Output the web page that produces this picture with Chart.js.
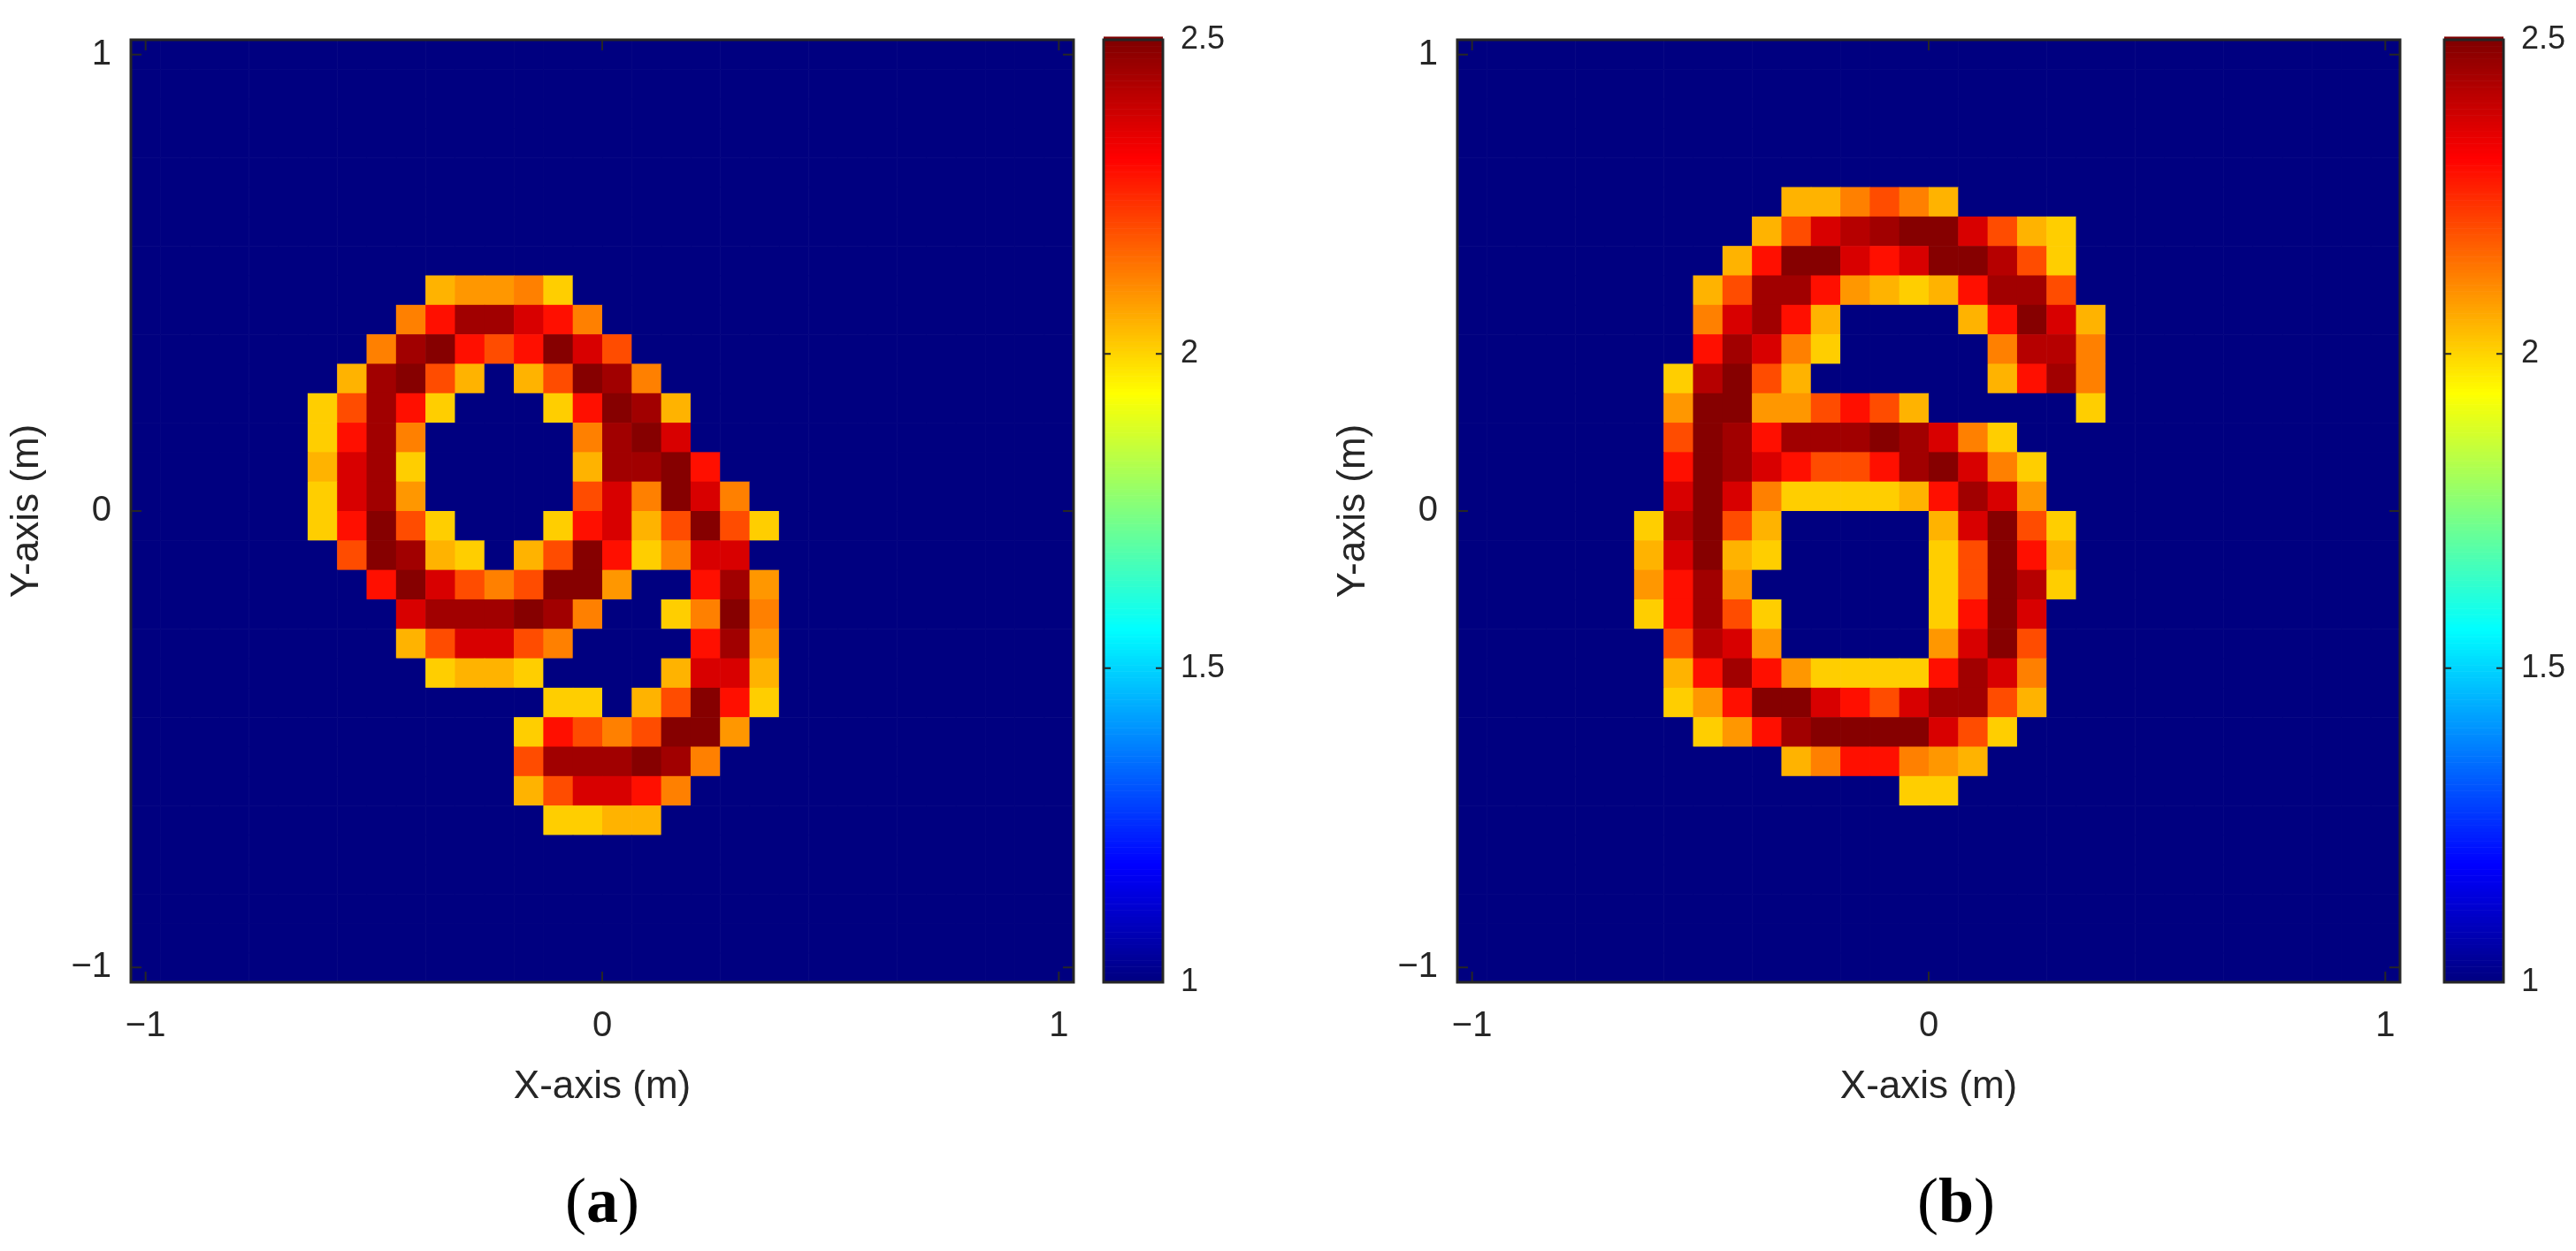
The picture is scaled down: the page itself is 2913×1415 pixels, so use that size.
<!DOCTYPE html>
<html><head><meta charset="utf-8">
<script src="https://cdn.jsdelivr.net/npm/chart.js@4.4.1/dist/chart.umd.min.js"></script>
<style>
html,body{margin:0;padding:0;background:#fff;width:2913px;height:1415px;overflow:hidden;}
canvas{position:absolute;}
.lab{position:absolute;font-family:"Liberation Serif",serif;font-size:72px;color:#000;transform:translate(-50%,-50%);top:1358px;}
.lab b{font-weight:bold;}
</style></head><body>
<canvas id="ca" style="left:0;top:0" width="1240" height="1260"></canvas>
<canvas id="cba" style="left:1240px;top:0" width="180" height="1260"></canvas>
<canvas id="cb" style="left:1500px;top:0" width="1240" height="1260"></canvas>
<canvas id="cbb" style="left:2756px;top:0" width="157" height="1260"></canvas>
<div class="lab" style="left:681px">(<b>a</b>)</div>
<div class="lab" style="left:2212px">(<b>b</b>)</div>
<script>
// grid: 32x32 cells spanning -32/31..32/31 on both axes
const N = 32;
const xTicks = [-1, 0, 1];
const yTicks = [-1, 0, 1];
const cbTicks = [1, 1.5, 2, 2.5];
const vMin = 1, vMax = 2.5;
// value codes
const codeVals = {'.':1, Y:2.01, A:2.05, a:2.09, O:2.125, o:2.20, R:2.29, r:2.37, d:2.42, D:2.45, K:2.49};
// [row from top, first column, codes]
const digitA = [
 [8,10,"AaaOY"],
 [9,9,"ORDDrRO"],
 [10,8,"ODKRoRKro"],
 [11,7,"ADKoA.AoKDO"],
 [12,6,"YoDRY...YRKDA"],
 [13,6,"YRDO.....ODKr"],
 [14,6,"ArDY.....ADDKR"],
 [15,6,"YrDa.....orOKrO"],
 [16,6,"YRKoY...YRrAoKoY"],
 [17,7,"oKDAY.AoKRYOrr"],
 [18,8,"RKroOoKKa..RDa"],
 [19,9,"rDDDKDO..YOKO"],
 [20,9,"AorroO....RDa"],
 [21,10,"YAAY....ArrA"],
 [22,14,"YY.AoKRY"],
 [23,13,"YRoOoKKa"],
 [24,13,"oDDDKDO"],
 [25,13,"AorrRO"],
 [26,14,"YYAA"]
];
const digitB = [
 [5,11,"AAOoOA"],
 [6,10,"AordDKKroAY"],
 [7,9,"ARKKrRrKKdoY"],
 [8,8,"AoDDRaAYARDDo"],
 [9,8,"OrDRA....ARKrA"],
 [10,8,"RDrOY.....OddO"],
 [11,7,"YdKoA......ARDO"],
 [12,7,"aKKaaoRoA.....Y"],
 [13,7,"oKDRDDDKDrOY"],
 [14,7,"RKDrRooRDKrOY"],
 [15,7,"rKrOYYYYARDra"],
 [16,6,"YdKoA.....ArKoY"],
 [17,6,"ArKAY.....YoKRA"],
 [18,6,"aRDa......YoKdY"],
 [19,6,"YRDoY.....YRKr"],
 [20,7,"odra.....arKo"],
 [21,7,"ARDRaYYYYRDrO"],
 [22,7,"YaRKKrRorDDoA"],
 [23,8,"YaRDKKKKroY"],
 [24,11,"AORROaA"],
 [25,15,"YY"]
];
function toMatrix(rows){
  const m = [];
  for(let r=0;r<N;r++){ m.push(new Array(N).fill(vMin)); }
  rows.forEach(([r,c0,s])=>{ for(let i=0;i<s.length;i++) m[r][c0+i]=codeVals[s[i]]; });
  return m;
}
function clamp(v){return Math.max(0,Math.min(1,v));}
function jet(v){
  const t = (v-vMin)/(vMax-vMin);
  const r = clamp(1.5-Math.abs(4*t-3)), g = clamp(1.5-Math.abs(4*t-2)), b = clamp(1.5-Math.abs(4*t-1));
  return `rgb(${Math.round(r*255)},${Math.round(g*255)},${Math.round(b*255)})`;
}
const FONT = "'Liberation Sans', Arial, sans-serif";
const AX = '#262626';
const lim = 32/31;

function heatPlugin(mat){
  return {
    id:'heat',
    beforeDatasetsDraw(chart){
      const {ctx, scales:{x,y}} = chart;
      ctx.save();
      for(let r=0;r<N;r++) for(let c=0;c<N;c++){
        const x0=x.getPixelForValue((2*c-32)/31), x1=x.getPixelForValue((2*c-30)/31);
        const y0=y.getPixelForValue((32-2*r)/31), y1=y.getPixelForValue((30-2*r)/31);
        ctx.fillStyle = jet(mat[r][c]);
        ctx.fillRect(x0, y0, x1-x0+0.6, y1-y0+0.6);
      }
      ctx.restore();
    },
    afterDatasetsDraw(chart){
      const {ctx, chartArea:a, scales:{x,y}} = chart;
      ctx.save();
      ctx.strokeStyle = AX; ctx.lineWidth = 2;
      const L = 12;
      xTicks.forEach(v=>{const p=x.getPixelForValue(v);
        ctx.beginPath();ctx.moveTo(p,a.bottom);ctx.lineTo(p,a.bottom-L);ctx.moveTo(p,a.top);ctx.lineTo(p,a.top+L);ctx.stroke();});
      yTicks.forEach(v=>{const p=y.getPixelForValue(v);
        ctx.beginPath();ctx.moveTo(a.left,p);ctx.lineTo(a.left+L,p);ctx.moveTo(a.right,p);ctx.lineTo(a.right-L,p);ctx.stroke();});
      ctx.lineWidth = 3;
      ctx.strokeRect(a.left, a.top, a.right-a.left, a.bottom-a.top);
      ctx.restore();
    }
  };
}
function fmt(v){ return v<0 ? '\u2212'+Math.abs(v) : String(v); }

function makeMap(id, rows){
  const mat = toMatrix(rows);
  new Chart(document.getElementById(id), {
    type:'scatter',
    data:{datasets:[{data:[]}]},
    options:{
      responsive:false, animation:false, devicePixelRatio:1,
      layout:{padding:{top:45, right:26, left:0, bottom:0}},
      plugins:{legend:{display:false}, tooltip:{enabled:false}},
      scales:{
        x:{type:'linear', min:-lim, max:lim,
           afterBuildTicks:s=>{s.ticks=xTicks.map(v=>({value:v}));},
           afterFit:s=>{s.height=149;},
           grid:{display:false}, border:{display:false},
           ticks:{callback:fmt, color:'#262626', font:{family:FONT,size:40}, padding:18, maxRotation:0},
           title:{display:true, text:'X-axis (m)', color:'#262626', font:{family:FONT,size:44}, padding:{top:4}}},
        y:{type:'linear', min:-lim, max:lim,
           afterBuildTicks:s=>{s.ticks=yTicks.map(v=>({value:v}));},
           afterFit:s=>{s.width=148;},
           grid:{display:false}, border:{display:false},
           ticks:{callback:fmt, color:'#262626', font:{family:FONT,size:40}, padding:14},
           title:{display:true, text:'Y-axis (m)', color:'#262626', font:{family:FONT,size:44}, padding:{bottom:0}}}
      }
    },
    plugins:[heatPlugin(mat)]
  });
}
function makeBar(id){
  new Chart(document.getElementById(id), {
    type:'scatter',
    data:{datasets:[{data:[]}]},
    options:{
      responsive:false, animation:false, devicePixelRatio:1,
      layout:{padding:{top:45, left:8, right:0, bottom:149}},
      plugins:{legend:{display:false}, tooltip:{enabled:false}},
      scales:{
        x:{display:false, min:0, max:1},
        y:{position:'right', min:vMin, max:vMax,
           afterBuildTicks:s=>{s.ticks=cbTicks.map(v=>({value:v}));},
           afterFit:s=>{s.width=(s.chart.width-8-67);},
           grid:{display:false}, border:{display:false},
           ticks:{callback:v=>String(v), color:'#262626', font:{family:FONT,size:36}, padding:12}}
      }
    },
    plugins:[{id:'cb', beforeDatasetsDraw(chart){
      const {ctx, chartArea:a, scales:{y}} = chart;
      for(let v=vMin; v<vMax; v+=0.005){
        const p0=y.getPixelForValue(v+0.005), p1=y.getPixelForValue(v);
        ctx.fillStyle=jet(v+0.0025); ctx.fillRect(a.left,p0,a.right-a.left,p1-p0+0.6);
      }
      ctx.strokeStyle=AX; ctx.lineWidth=3; ctx.strokeRect(a.left,a.top,a.right-a.left,a.bottom-a.top);
      ctx.lineWidth=2;
      cbTicks.forEach(v=>{const p=y.getPixelForValue(v);ctx.beginPath();ctx.moveTo(a.left,p);ctx.lineTo(a.left+8,p);ctx.moveTo(a.right,p);ctx.lineTo(a.right-8,p);ctx.stroke();});
    }}]
  });
}
makeMap('ca', digitA);
makeMap('cb', digitB);
makeBar('cba');
makeBar('cbb');
</script>
</body></html>
